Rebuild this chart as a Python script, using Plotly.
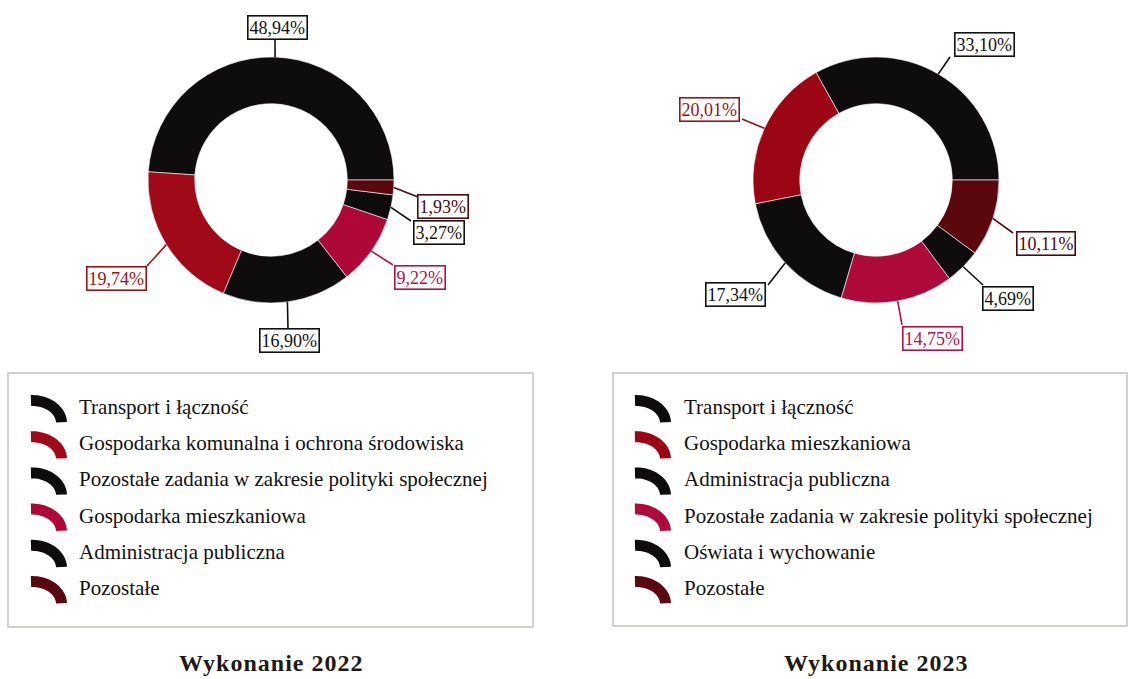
import math
import plotly.graph_objects as go

W, H = 1130, 679

# ---------------- data ----------------
categories_2022 = [
    "Transport i łączność",
    "Gospodarka komunalna i ochrona środowiska",
    "Pozostałe zadania w zakresie polityki społecznej",
    "Gospodarka mieszkaniowa",
    "Administracja publiczna",
    "Pozostałe",
]
shares_2022 = [48.94, 19.74, 16.90, 9.22, 3.27, 1.93]

categories_2023 = [
    "Transport i łączność",
    "Gospodarka mieszkaniowa",
    "Administracja publiczna",
    "Pozostałe zadania w zakresie polityki społecznej",
    "Oświata i wychowanie",
    "Pozostałe",
]
shares_2023 = [33.10, 20.01, 17.34, 14.75, 4.69, 10.11]

titles = ["Wykonanie 2022", "Wykonanie 2023"]

# ---------------- styling ----------------
BLACK = "#0e0c0c"
colors_2022 = [BLACK, "#a00a18", BLACK, "#ae0838", BLACK, "#5a070d"]
text_colors_2022 = ["#111111", "#9a1414", "#111111", "#b0124a", "#111111", "#4a0a0e"]
colors_2023 = [BLACK, "#9c0614", BLACK, "#ae0a3a", BLACK, "#5a070d"]
text_colors_2023 = ["#111111", "#9a1414", "#111111", "#b0124a", "#111111", "#4a0a0e"]

FONT = "Liberation Serif, Times New Roman, serif"
R_OUT = 123
HOLE = 0.62

# pixel layout of each panel: donut centre, label boxes (centre) and leader ends
panels = [
    dict(
        cats=categories_2022, vals=shares_2022, colors=colors_2022, tcolors=text_colors_2022,
        center=(271, 180),
        boxes=[(277, 27), (116, 278), (289, 340), (420, 277), (439, 232), (443, 206)],
        line_ends=[(275, 38), (147, 266), (288, 328), (393, 265), (411, 221), (418, 197)],
        legend_box=(8, 373, 533, 627), icon_x=32, text_x=77,
        title_x=271,
    ),
    dict(
        cats=categories_2023, vals=shares_2023, colors=colors_2023, tcolors=text_colors_2023,
        center=(876, 180),
        boxes=[(984, 44), (709, 109), (735, 294), (932, 338), (1008, 298), (1046, 243)],
        line_ends=[(950, 57), (742, 119), (768, 285), (902, 325), (983, 285), (1013, 233)],
        legend_box=(613, 373, 1127, 626), icon_x=636, text_x=682,
        title_x=876,
    ),
]

LEGEND_ROW0 = 407
LEGEND_STEP = 36.2


def px_x(x):
    return x / W


def px_y(y):
    return 1 - y / H


def fmt(v):
    return f"{v:.2f}".replace(".", ",") + "%"


def icon_path(x0, yc):
    # quarter-ring glyph used as a legend key
    ox, oy = 35, 28   # outer radii
    ix, iy = 24, 17   # inner radii
    cx, cy = x0, yc + 16
    pts_out = []
    pts_in = []
    n = 24
    for k in range(n + 1):
        a = math.radians(92 - 90 * k / n)
        pts_out.append((cx + ox * math.cos(a), cy - oy * math.sin(a)))
    for k in range(n + 1):
        a = math.radians(2 + 90 * k / n)
        pts_in.append((cx + ix * math.cos(a), cy - iy * math.sin(a)))
    pts = pts_out + pts_in
    d = "M " + " L ".join(f"{x:.2f},{y:.2f}" for x, y in pts) + " Z"
    return d


fig = go.Figure()

# invisible trace so the pixel-based cartesian frame exists
fig.add_trace(go.Scatter(x=[0, W], y=[0, H], mode="markers",
                         marker=dict(opacity=0), hoverinfo="skip", showlegend=False))

shapes = []
annotations = []

for p in panels:
    cx, cy = p["center"]
    total = sum(p["vals"])
    # counterclockwise pies are anchored on the far edge of the first slice;
    # shift so the first slice starts at 3 o'clock and runs counterclockwise
    first_angle = p["vals"][0] / total * 360.0
    fig.add_trace(go.Pie(
        labels=p["cats"], values=p["vals"], hole=HOLE, sort=False,
        direction="counterclockwise", rotation=90 - first_angle,
        marker=dict(colors=p["colors"], line=dict(color="rgba(255,255,255,0.75)", width=0.8)),
        textinfo="none", hoverinfo="label+percent", showlegend=False,
        domain=dict(x=[px_x(cx - R_OUT), px_x(cx + R_OUT)],
                    y=[px_y(cy + R_OUT), px_y(cy - R_OUT)]),
    ))

    cum = 0.0
    for i, v in enumerate(p["vals"]):
        mid = (cum + v / 2) / total * 360.0
        cum += v
        a = math.radians(mid)
        ex, ey = cx + R_OUT * math.cos(a), cy - R_OUT * math.sin(a)
        lx, ly = p["line_ends"][i]
        shapes.append(dict(type="line", xref="x", yref="y", x0=ex, y0=ey, x1=lx, y1=ly,
                           line=dict(color=p["tcolors"][i], width=1.6), layer="above"))
        bx, by = p["boxes"][i]
        annotations.append(dict(
            x=bx, y=by, xref="x", yref="y", showarrow=False, text=fmt(v),
            font=dict(family=FONT, size=18, color=p["tcolors"][i]),
            bgcolor="white", bordercolor=p["tcolors"][i], borderwidth=1.6, borderpad=1,
            xanchor="center", yanchor="middle",
        ))

    # legend frame
    x0, y0, x1, y1 = p["legend_box"]
    shapes.append(dict(type="rect", xref="x", yref="y", x0=x0, y0=y0, x1=x1, y1=y1,
                       line=dict(color="#c4c4bc", width=1.5), fillcolor="white", layer="below"))
    for i, name in enumerate(p["cats"]):
        yc = LEGEND_ROW0 + i * LEGEND_STEP
        shapes.append(dict(type="path", xref="x", yref="y", path=icon_path(p["icon_x"], yc),
                           fillcolor=p["colors"][i], line=dict(width=0), layer="above"))
        annotations.append(dict(
            x=p["text_x"], y=yc, xref="x", yref="y", showarrow=False, text=name,
            font=dict(family=FONT, size=21, color="#111111"),
            xanchor="left", yanchor="middle",
        ))

for p, t in zip(panels, titles):
    annotations.append(dict(
        x=p["title_x"], y=663, xref="x", yref="y", showarrow=False,
        text=f"<span style='letter-spacing:1px'><b>{t}</b></span>",
        font=dict(family=FONT, size=24, color="#1c1a12"),
        xanchor="center", yanchor="middle",
    ))

fig.update_layout(
    width=W, height=H,
    margin=dict(l=0, r=0, t=0, b=0),
    paper_bgcolor="white", plot_bgcolor="white",
    xaxis=dict(range=[0, W], visible=False, domain=[0, 1], fixedrange=True),
    yaxis=dict(range=[H, 0], visible=False, domain=[0, 1], fixedrange=True),
    shapes=shapes, annotations=annotations,
    showlegend=False,
)

fig.write_html("out.html")
